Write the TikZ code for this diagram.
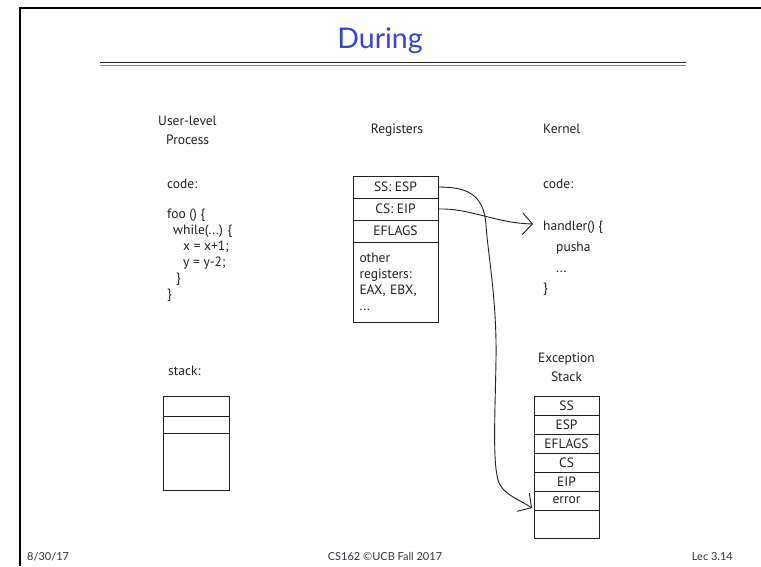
\documentclass[tikz,border=0pt]{standalone}
\usepackage{fontspec}
\setmainfont{PT Sans}
\newfontfamily\titlefont{Lato}
\usetikzlibrary{arrows.meta}
\definecolor{txt}{HTML}{231F20}
\definecolor{titleblue}{HTML}{3344DD}
\definecolor{foot}{HTML}{2E3440}
\begin{document}
\begin{tikzpicture}[x=1pt,y=-1pt,
  lbl/.style={inner sep=0pt,anchor=base west,text=txt,font=\fontsize{13.5}{16}\selectfont},
  clbl/.style={inner sep=0pt,anchor=base,text=txt,font=\fontsize{13.5}{16}\selectfont},
  reg/.style={draw=txt,line width=1pt,minimum width=85pt,minimum height=22pt,inner sep=0pt,text=txt,font=\fontsize{13.5}{16}\selectfont},
  exc/.style={draw=txt,line width=1pt,minimum width=65pt,inner sep=0pt,text=txt,font=\fontsize{13.5}{16}\selectfont},
  ubox/.style={draw=txt,line width=1pt,minimum width=66pt,inner sep=0pt},
  conn/.style={draw=txt,line width=0.9pt,-{Straight Barb[length=10pt,width=22pt,line width=0.9pt]}},
  ftext/.style={inner sep=0pt,anchor=base,text=foot,font=\titlefont\fontsize{11}{13}\selectfont}
]
\useasboundingbox (0,0) rectangle (761,566);
\fill[white] (0,0) rectangle (761,566);
% frame
\draw[line width=2pt,black] (20,566) -- (20,8) -- (761,8);
% title
\node[inner sep=0pt,anchor=base,text=titleblue,font=\titlefont\fontsize{28.5}{30}\selectfont] (title) at (380,48) {During};
\draw[line width=1.3pt,black!85] (100,62.5) -- (686,62.5);
\draw[line width=1pt,black!45] (100,65.5) -- (686,65.5);
% column headers
\node[lbl] (ul) at (158,125) {User-level};
\node[lbl] (proc) at (166,144) {Process};
\node[clbl] (regs) at (397,133) {Registers};
\node[lbl] (kern) at (543,133) {Kernel};
% user code
\node[lbl] (ucode) at (167,188) {code:};
\node[lbl] (foo) at (167,218) {foo () \{};
\node[lbl] (wh) at (173,234) {while(...) \{};
\node[lbl] (xl) at (183,250) {x = x+1;};
\node[lbl] (yl) at (183,266) {y = y-2;};
\node[lbl] (cb1) at (176,282) {\}};
\node[lbl] (cb2) at (167,298) {\}};
\node[lbl] (ustk) at (168,375) {stack:};
% user stack box
\node[ubox,minimum height=20pt] (us1) at (196,406) {};
\node[ubox,minimum height=17pt] (us2) at (196,424.5) {};
\node[ubox,minimum height=57pt] (us3) at (196,461.5) {};
% registers
\node[reg] (ss) at (395.5,187) {SS: ESP};
\node[reg] (cs) at (395.5,209) {CS: EIP};
\node[reg] (efl) at (395.5,231) {EFLAGS};
\node[reg,minimum height=80pt,text width=72pt,align=left] (oth) at (395.5,282) {other\\registers:\\EAX, EBX,\\...};
% kernel code
\node[lbl] (kcode) at (543,188) {code:};
\node[lbl] (hand) at (543,230) {handler() \{};
\node[lbl] (push) at (556,251) {pusha};
\node[lbl] (dots) at (556,272) {...};
\node[lbl] (kcb) at (543,292) {\}};
% exception stack
\node[clbl] (exl1) at (566.5,362) {Exception};
\node[clbl] (exl2) at (566.5,381) {Stack};
\node[exc,minimum height=19pt] (e1) at (566.5,405.5) {SS};
\node[exc,minimum height=19pt] (e2) at (566.5,424.5) {ESP};
\node[exc,minimum height=19pt] (e3) at (566.5,443.5) {EFLAGS};
\node[exc,minimum height=19pt] (e4) at (566.5,462.5) {CS};
\node[exc,minimum height=19pt] (e5) at (566.5,481.5) {EIP};
\node[exc,minimum height=19pt] (e6) at (566.5,500.5) {error};
\node[exc,minimum height=28pt] (e7) at (566.5,524) {};
% connectors
\coordinate (htip) at (533,224);
\coordinate (etip) at (532,508);
\draw[conn] (ss.east) .. controls (468,187) and (484,195) .. (486,225)
  .. controls (488,255) and (497,300) .. (496,360)
  .. controls (495,420) and (492,470) .. (500,485)
  .. controls (507,496) and (520,500) .. (etip);
\draw[conn] (cs.east) .. controls (470,208) and (495,223) .. (htip);
% footer
\node[ftext,anchor=base west] (fd) at (27,560) {8/30/17};
\node[ftext] (fc) at (385,560) {CS162 ©UCB Fall 2017};
\node[ftext,anchor=base east] (fl) at (733,560) {Lec 3.14};
\end{tikzpicture}
\end{document}
